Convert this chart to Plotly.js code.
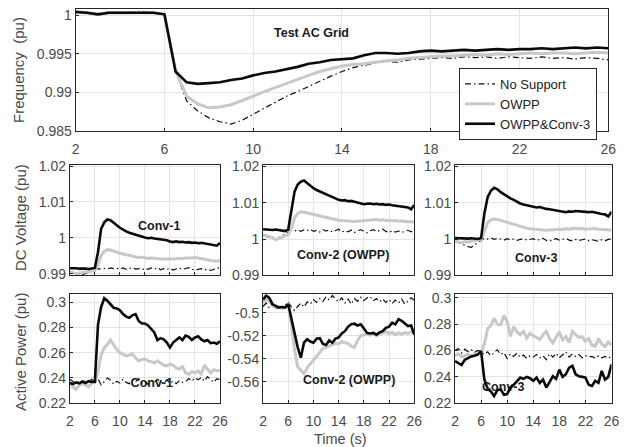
<!DOCTYPE html>
<html>
<head>
<meta charset="utf-8">
<script src="https://cdn.plot.ly/plotly-3.0.1.min.js"></script>
<style>html,body{margin:0;padding:0;background:#fff;}#chart{width:624px;height:447px;}</style>
</head>
<body>
<div id="chart"></div>
<script>
// ---------- data ----------
const timeS = [2,2.5,3,3.5,4,4.5,5,5.5,6,6.5,7,7.5,8,8.5,9,9.5,10,10.5,11,11.5,12,12.5,13,13.5,14,14.5,15,15.5,16,16.5,17,17.5,18,18.5,19,19.5,20,20.5,21,21.5,22,22.5,23,23.5,24,24.5,25,25.5,26];

const seriesNames = ['No Support','OWPP','OWPP&Conv-3'];
const xTickVals = [2,6,10,14,18,22,26];

// Frequency, test AC grid (pu)
const freqNone  = [1.0005,1.0004,1.0002,1.0004,1.0003,1.0004,1.0005,1.0003,1.0002,0.9928,0.9889,0.9876,0.9867,0.9862,0.9859,0.9864,0.9872,0.9879,0.9888,0.9895,0.9901,0.9908,0.9915,0.9921,0.9927,0.9932,0.9935,0.9938,0.9940,0.9939,0.9942,0.9943,0.9944,0.9945,0.9944,0.9946,0.9945,0.9946,0.9944,0.9946,0.9945,0.9944,0.9946,0.9944,0.9945,0.9943,0.9945,0.9944,0.9942];
const freqOwpp  = [1.0003,1.0003,1.0001,1.0003,1.0003,1.0003,1.0003,1.0003,1.0001,0.9928,0.9895,0.9885,0.9880,0.9881,0.9884,0.9889,0.9895,0.9901,0.9906,0.9912,0.9917,0.9922,0.9927,0.9931,0.9934,0.9936,0.9937,0.9939,0.9941,0.9942,0.9944,0.9945,0.9946,0.9947,0.9947,0.9948,0.9949,0.9948,0.9950,0.9949,0.9950,0.9951,0.9950,0.9951,0.9951,0.9950,0.9951,0.9952,0.9951];
const freqConv3 = [1.0004,1.0003,1.0001,1.0003,1.0003,1.0003,1.0003,1.0003,1.0001,0.9927,0.9913,0.9911,0.9912,0.9913,0.9916,0.9918,0.9922,0.9925,0.9927,0.9930,0.9933,0.9937,0.9939,0.9942,0.9943,0.9944,0.9948,0.9951,0.9951,0.9950,0.9951,0.9953,0.9954,0.9953,0.9954,0.9955,0.9954,0.9955,0.9956,0.9955,0.9956,0.9956,0.9957,0.9956,0.9957,0.9958,0.9957,0.9958,0.9957];

// DC voltage (pu)
const dc1None  = [0.9906,0.9903,0.9898,0.9900,0.9897,0.9901,0.9904,0.9908,0.9912,0.9914,0.9913,0.9915,0.9913,0.9916,0.9914,0.9915,0.9913,0.9916,0.9912,0.9915,0.9917,0.9913,0.9914,0.9911,0.9915,0.9912,0.9916,0.9913,0.9917,0.9911,0.9914,0.9912,0.9915,0.9910,0.9913,0.9916,0.9912,0.9914,0.9917,0.9913,0.9909,0.9912,0.9914,0.9910,0.9913,0.9909,0.9912,0.9915,0.9918];
const dc1Owpp  = [0.9905,0.9903,0.9900,0.9902,0.9904,0.9905,0.9906,0.9907,0.9908,0.9925,0.9950,0.9962,0.9967,0.9966,0.9962,0.9960,0.9957,0.9955,0.9951,0.9950,0.9948,0.9946,0.9945,0.9946,0.9944,0.9943,0.9944,0.9942,0.9942,0.9941,0.9941,0.9942,0.9940,0.9941,0.9942,0.9943,0.9942,0.9944,0.9943,0.9944,0.9945,0.9944,0.9943,0.9941,0.9939,0.9937,0.9936,0.9935,0.9937];
const dc1Conv3 = [0.9915,0.9916,0.9915,0.9914,0.9915,0.9914,0.9913,0.9914,0.9916,0.9960,1.0025,1.0043,1.0051,1.0049,1.0041,1.0035,1.0028,1.0022,1.0018,1.0014,1.0011,1.0008,1.0005,1.0002,1.0001,0.9999,1.0000,0.9998,0.9997,0.9996,0.9994,0.9993,0.9990,0.9988,0.9990,0.9988,0.9989,0.9987,0.9988,0.9986,0.9987,0.9985,0.9986,0.9984,0.9983,0.9982,0.9980,0.9978,0.9986];

const dc2None  = [1.0010,1.0008,1.0002,1.0005,0.9999,1.0004,1.0009,1.0013,1.0018,1.0024,1.0022,1.0026,1.0021,1.0025,1.0023,1.0027,1.0021,1.0024,1.0019,1.0026,1.0022,1.0025,1.0020,1.0024,1.0027,1.0019,1.0023,1.0020,1.0025,1.0018,1.0022,1.0026,1.0021,1.0017,1.0023,1.0026,1.0020,1.0024,1.0027,1.0021,1.0018,1.0023,1.0019,1.0022,1.0018,1.0021,1.0024,1.0020,1.0025];
const dc2Owpp  = [1.0012,1.0010,1.0008,1.0004,0.9998,1.0001,1.0005,1.0008,1.0012,1.0030,1.0058,1.0070,1.0075,1.0074,1.0072,1.0068,1.0066,1.0064,1.0063,1.0060,1.0058,1.0056,1.0055,1.0054,1.0052,1.0051,1.0050,1.0049,1.0050,1.0048,1.0049,1.0050,1.0051,1.0050,1.0052,1.0053,1.0054,1.0052,1.0053,1.0051,1.0052,1.0050,1.0051,1.0049,1.0050,1.0048,1.0047,1.0046,1.0047];
const dc2Conv3 = [1.0027,1.0026,1.0027,1.0025,1.0026,1.0025,1.0024,1.0022,1.0026,1.0080,1.0130,1.0150,1.0158,1.0161,1.0154,1.0146,1.0140,1.0135,1.0131,1.0127,1.0122,1.0118,1.0115,1.0112,1.0108,1.0106,1.0107,1.0104,1.0105,1.0103,1.0100,1.0098,1.0096,1.0097,1.0098,1.0096,1.0097,1.0095,1.0096,1.0094,1.0095,1.0093,1.0092,1.0091,1.0089,1.0090,1.0087,1.0082,1.0094];

const dc3None  = [0.9994,0.9990,0.9986,0.9984,0.9979,0.9977,0.9985,0.9990,0.9996,1.0002,1.0000,1.0003,0.9999,1.0002,1.0000,0.9997,1.0001,0.9998,1.0000,0.9996,0.9999,1.0001,0.9997,0.9999,1.0001,0.9996,0.9999,1.0002,0.9996,0.9993,0.9999,1.0001,0.9997,0.9999,1.0002,0.9997,0.9995,0.9999,0.9996,0.9998,1.0000,0.9995,0.9998,0.9996,0.9994,0.9998,0.9995,0.9999,1.0001];
const dc3Owpp  = [0.9995,0.9993,0.9990,0.9993,0.9991,0.9994,0.9996,0.9997,0.9999,1.0020,1.0045,1.0053,1.0055,1.0054,1.0052,1.0049,1.0046,1.0043,1.0040,1.0037,1.0035,1.0032,1.0030,1.0028,1.0027,1.0026,1.0025,1.0026,1.0024,1.0025,1.0026,1.0025,1.0027,1.0026,1.0028,1.0027,1.0029,1.0030,1.0028,1.0029,1.0027,1.0028,1.0030,1.0029,1.0027,1.0026,1.0025,1.0024,1.0025];
const dc3Conv3 = [1.0003,1.0002,1.0003,1.0002,1.0001,1.0002,1.0001,1.0000,1.0003,1.0070,1.0115,1.0133,1.0141,1.0137,1.0129,1.0123,1.0118,1.0112,1.0108,1.0102,1.0098,1.0095,1.0093,1.0090,1.0089,1.0087,1.0088,1.0085,1.0083,1.0082,1.0080,1.0078,1.0077,1.0075,1.0074,1.0076,1.0075,1.0077,1.0076,1.0077,1.0075,1.0074,1.0075,1.0072,1.0071,1.0069,1.0068,1.0062,1.0075];

// Active power (pu)
const p1None  = [0.2390,0.2370,0.2355,0.2380,0.2360,0.2385,0.2365,0.2390,0.2360,0.2395,0.2345,0.2370,0.2400,0.2385,0.2350,0.2375,0.2360,0.2390,0.2365,0.2355,0.2385,0.2370,0.2395,0.2360,0.2375,0.2350,0.2380,0.2365,0.2390,0.2370,0.2355,0.2385,0.2360,0.2375,0.2355,0.2380,0.2365,0.2370,0.2395,0.2375,0.2400,0.2385,0.2405,0.2375,0.2410,0.2390,0.2365,0.2395,0.2385];
const p1Owpp  = [0.2350,0.2330,0.2310,0.2340,0.2355,0.2345,0.2330,0.2360,0.2365,0.2450,0.2580,0.2640,0.2665,0.2700,0.2660,0.2625,0.2600,0.2590,0.2575,0.2580,0.2590,0.2560,0.2535,0.2545,0.2550,0.2535,0.2525,0.2520,0.2535,0.2520,0.2500,0.2495,0.2510,0.2500,0.2480,0.2470,0.2490,0.2440,0.2430,0.2450,0.2440,0.2455,0.2430,0.2500,0.2470,0.2440,0.2465,0.2455,0.2460];
const p1Conv3 = [0.2360,0.2352,0.2365,0.2358,0.2372,0.2360,0.2375,0.2368,0.2370,0.2820,0.2960,0.3030,0.3010,0.2985,0.2955,0.2950,0.2935,0.2905,0.2885,0.2875,0.2895,0.2905,0.2850,0.2830,0.2830,0.2815,0.2790,0.2760,0.2700,0.2715,0.2705,0.2680,0.2640,0.2680,0.2700,0.2720,0.2700,0.2735,0.2725,0.2700,0.2720,0.2730,0.2705,0.2690,0.2700,0.2675,0.2680,0.2670,0.2690];

const p2None  = [-0.4945,-0.4915,-0.4960,-0.4930,-0.4975,-0.4940,-0.4965,-0.4930,-0.4905,-0.4950,-0.4980,-0.4945,-0.4915,-0.4950,-0.4905,-0.4925,-0.4885,-0.4910,-0.4875,-0.4900,-0.4860,-0.4890,-0.4850,-0.4880,-0.4905,-0.4870,-0.4915,-0.4880,-0.4925,-0.4875,-0.4900,-0.4865,-0.4895,-0.4870,-0.4860,-0.4895,-0.4875,-0.4905,-0.4880,-0.4910,-0.4885,-0.4920,-0.4890,-0.4915,-0.4880,-0.4925,-0.4895,-0.4870,-0.4890];
const p2Owpp  = [-0.4910,-0.4880,-0.4900,-0.4935,-0.4950,-0.4945,-0.4960,-0.4950,-0.4930,-0.5100,-0.5320,-0.5470,-0.5500,-0.5530,-0.5480,-0.5440,-0.5410,-0.5380,-0.5340,-0.5310,-0.5300,-0.5290,-0.5280,-0.5265,-0.5270,-0.5250,-0.5260,-0.5265,-0.5290,-0.5300,-0.5240,-0.5200,-0.5190,-0.5185,-0.5195,-0.5180,-0.5200,-0.5185,-0.5175,-0.5165,-0.5180,-0.5170,-0.5190,-0.5175,-0.5185,-0.5170,-0.5180,-0.5165,-0.5175];
const p2Conv3 = [-0.4885,-0.4850,-0.4870,-0.4925,-0.4940,-0.4955,-0.4950,-0.4955,-0.4925,-0.5045,-0.5180,-0.5300,-0.5390,-0.5260,-0.5230,-0.5250,-0.5260,-0.5225,-0.5220,-0.5270,-0.5280,-0.5240,-0.5260,-0.5225,-0.5215,-0.5180,-0.5160,-0.5120,-0.5100,-0.5095,-0.5110,-0.5100,-0.5135,-0.5175,-0.5180,-0.5175,-0.5190,-0.5170,-0.5160,-0.5130,-0.5120,-0.5085,-0.5100,-0.5055,-0.5070,-0.5095,-0.5115,-0.5110,-0.5190];

const p3None  = [0.2600,0.2615,0.2580,0.2610,0.2590,0.2605,0.2585,0.2600,0.2590,0.2570,0.2590,0.2560,0.2585,0.2605,0.2570,0.2585,0.2540,0.2575,0.2555,0.2580,0.2550,0.2565,0.2540,0.2560,0.2550,0.2570,0.2545,0.2560,0.2530,0.2575,0.2550,0.2580,0.2545,0.2570,0.2590,0.2550,0.2575,0.2555,0.2570,0.2545,0.2560,0.2550,0.2555,0.2540,0.2560,0.2545,0.2555,0.2540,0.2560];
const p3Owpp  = [0.2560,0.2575,0.2550,0.2560,0.2570,0.2560,0.2575,0.2565,0.2580,0.2650,0.2765,0.2790,0.2845,0.2800,0.2795,0.2865,0.2820,0.2707,0.2782,0.2740,0.2720,0.2745,0.2695,0.2730,0.2710,0.2700,0.2683,0.2720,0.2745,0.2690,0.2657,0.2700,0.2740,0.2680,0.2705,0.2660,0.2745,0.2720,0.2700,0.2705,0.2670,0.2690,0.2640,0.2632,0.2690,0.2650,0.2630,0.2665,0.2640];
const p3Conv3 = [0.2520,0.2505,0.2490,0.2530,0.2545,0.2555,0.2560,0.2570,0.2595,0.2380,0.2310,0.2290,0.2255,0.2300,0.2305,0.2265,0.2270,0.2320,0.2340,0.2370,0.2395,0.2385,0.2400,0.2390,0.2370,0.2395,0.2355,0.2380,0.2320,0.2360,0.2405,0.2385,0.2455,0.2400,0.2420,0.2470,0.2483,0.2420,0.2405,0.2400,0.2395,0.2340,0.2332,0.2370,0.2355,0.2445,0.2380,0.2400,0.2495];

// ---------- styling ----------
const FONT = 'Liberation Sans, Arial, Helvetica, sans-serif';
const TICKCOL = '#4a4a4a';
const styles = [
  {color:'#111111', width:1.2, dash:'6px,3px,1.5px,3px'},
  {color:'#c8c8c8', width:3, dash:'solid'},
  {color:'#0a0a0a', width:2.6, dash:'solid'}
];

const panels = [
  {ax:'', data:[freqNone,freqOwpp,freqConv3], legend:true},
  {ax:'2', data:[dc1None,dc1Owpp,dc1Conv3]},
  {ax:'3', data:[dc2None,dc2Owpp,dc2Conv3]},
  {ax:'4', data:[dc3None,dc3Owpp,dc3Conv3]},
  {ax:'5', data:[p1None,p1Owpp,p1Conv3]},
  {ax:'6', data:[p2None,p2Owpp,p2Conv3]},
  {ax:'7', data:[p3None,p3Owpp,p3Conv3]}
];

const traces = [];
// labels sitting underneath the curves (as in the reference)
const boldFont = {family:FONT, size:12.5, color:'#1a1a1a'};
traces.push({x:[15.1], y:[0.2352], text:['<b>Conv-1</b>'], mode:'text', textfont:boldFont, xaxis:'x5', yaxis:'y5', showlegend:false, hoverinfo:'skip'});
traces.push({x:[9.4], y:[0.2315], text:['<b>Conv-3</b>'], mode:'text', textfont:boldFont, xaxis:'x7', yaxis:'y7', showlegend:false, hoverinfo:'skip'});

panels.forEach(p => {
  p.data.forEach((ys, i) => {
    traces.push({
      x: timeS, y: ys, type:'scatter', mode:'lines', name: seriesNames[i],
      line: Object.assign({shape:'linear'}, styles[i]),
      xaxis:'x'+p.ax, yaxis:'y'+p.ax,
      showlegend: !!p.legend, hoverinfo:'skip'
    });
  });
});

function axisBase(extra){
  return Object.assign({
    showline:true, mirror:true, linecolor:'#262626', linewidth:1,
    showgrid:true, gridcolor:'#e4e4e4', gridwidth:1, zeroline:false,
    ticks:'inside', ticklen:3, tickcolor:'#262626', tickwidth:1,
    tickfont:{family:FONT, size:14, color:TICKCOL},
    fixedrange:true
  }, extra);
}

const col1 = [0.1119, 0.3526], col2 = [0.4215, 0.6639], col3 = [0.7292, 0.9800];
const rowTop = [0.7069, 0.9792], rowMid = [0.3837, 0.6309], rowBot = [0.0978, 0.3416];

const xCommon = {range:[2,26], tickmode:'array', tickvals:xTickVals, ticktext:xTickVals.map(String)};
const dcTicks = {tickmode:'array', tickvals:[0.99,1,1.01,1.02], ticktext:['0.99','1','1.01','1.02']};
const pTicks = {tickmode:'array', tickvals:[0.22,0.24,0.26,0.28,0.3], ticktext:['0.22','0.24','0.26','0.28','0.3']};

const layout = {
  width:624, height:447, autosize:false,
  margin:{l:0,r:0,t:0,b:0},
  paper_bgcolor:'#ffffff', plot_bgcolor:'#ffffff',
  font:{family:FONT, color:TICKCOL},
  showlegend:true,
  legend:{x:0.7356, y:0.8479, xanchor:'left', yanchor:'top', bgcolor:'#ffffff', bordercolor:'#262626', borderwidth:1,
          font:{family:FONT, size:13, color:'#222222'}, tracegroupgap:0},
  xaxis: axisBase(Object.assign({domain:[0.1213,0.9748], anchor:'y', ticklabelstandoff:5}, xCommon)),
  yaxis: axisBase({domain:rowTop, anchor:'x', range:[0.985,1.00075], tickmode:'array',
                   tickvals:[0.985,0.99,0.995,1], ticktext:['0.985','0.99','0.995','1']}),
  xaxis2: axisBase(Object.assign({domain:col1, anchor:'y2', showticklabels:false}, xCommon)),
  yaxis2: axisBase(Object.assign({domain:rowMid, anchor:'x2', range:[0.9895,1.0203]}, dcTicks)),
  xaxis3: axisBase(Object.assign({domain:col2, anchor:'y3', showticklabels:false}, xCommon)),
  yaxis3: axisBase(Object.assign({domain:rowMid, anchor:'x3', range:[0.98995,1.0204]}, dcTicks)),
  xaxis4: axisBase(Object.assign({domain:col3, anchor:'y4', showticklabels:false}, xCommon)),
  yaxis4: axisBase(Object.assign({domain:rowMid, anchor:'x4', range:[0.98995,1.0204]}, dcTicks)),
  xaxis5: axisBase(Object.assign({domain:col1, anchor:'y5', ticklabelstandoff:5}, xCommon)),
  yaxis5: axisBase(Object.assign({domain:rowBot, anchor:'x5', range:[0.22,0.3061]}, pTicks)),
  xaxis6: axisBase(Object.assign({domain:col2, anchor:'y6', ticklabelstandoff:5}, xCommon)),
  yaxis6: axisBase({domain:rowBot, anchor:'x6', range:[-0.5787,-0.4839], tickmode:'array',
                    tickvals:[-0.56,-0.54,-0.52,-0.5], ticktext:['-0.56','-0.54','-0.52','-0.5']}),
  xaxis7: axisBase(Object.assign({domain:col3, anchor:'y7', ticklabelstandoff:5}, xCommon)),
  yaxis7: axisBase(Object.assign({domain:rowBot, anchor:'x7', range:[0.22,0.3026]}, pTicks)),
  annotations:[
    {xref:'paper', yref:'paper', x:18/624, y:1-70/447, text:'Frequency\u00a0 (pu)', textangle:-90, showarrow:false,
     xanchor:'center', yanchor:'middle', font:{family:FONT, size:15, color:TICKCOL}},
    {xref:'paper', yref:'paper', x:20/624, y:1-218/447, text:'DC Voltage (pu)', textangle:-90, showarrow:false,
     xanchor:'center', yanchor:'middle', font:{family:FONT, size:15, color:TICKCOL}},
    {xref:'paper', yref:'paper', x:20/624, y:1-352/447, text:'Active Power (pu)', textangle:-90, showarrow:false,
     xanchor:'center', yanchor:'middle', font:{family:FONT, size:15, color:TICKCOL}},
    {xref:'paper', yref:'paper', x:341/624, y:1-439/447, text:'Time (s)', showarrow:false,
     xanchor:'center', yanchor:'middle', font:{family:FONT, size:14.5, color:TICKCOL}},
    {xref:'x', yref:'y', x:12.64, y:0.99766, text:'<b>Test AC Grid</b>', showarrow:false, font:boldFont},
    {xref:'x2', yref:'y2', x:16.3, y:1.0034, text:'<b>Conv-1</b>', showarrow:false, font:boldFont},
    {xref:'x3', yref:'y3', x:14.7, y:0.99564, text:'<b>Conv-2 (OWPP)</b>', showarrow:false, font:boldFont},
    {xref:'x4', yref:'y4', x:14.4, y:0.99483, text:'<b>Conv-3</b>', showarrow:false, font:boldFont},
    {xref:'x6', yref:'y6', x:15.67, y:-0.5585, text:'<b>Conv-2 (OWPP)</b>', showarrow:false, font:boldFont}
  ]
};

Plotly.newPlot('chart', traces, layout, {staticPlot:true, displayModeBar:false});
</script>
</body>
</html>
